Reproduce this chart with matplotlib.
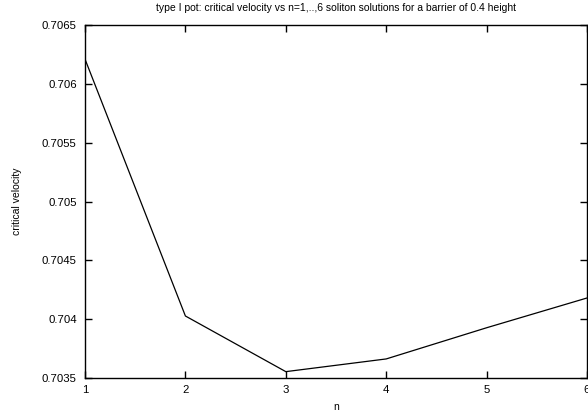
import matplotlib
matplotlib.use("Agg")
import matplotlib.pyplot as plt

n = [1, 2, 3, 4, 5, 6]
vcrit = [0.70621, 0.704027, 0.703554, 0.703662, 0.703927, 0.70418]
yticks = [0.7035, 0.704, 0.7045, 0.705, 0.7055, 0.706, 0.7065]
yticklabels = ["0.7035", "0.704", "0.7045", "0.705", "0.7055", "0.706", "0.7065"]

plt.rcParams['font.family'] = ['Liberation Sans', 'DejaVu Sans']

fig = plt.figure(figsize=(5.88, 4.19), dpi=100)
ax = fig.add_axes([85/588, 1-378/419, (587-85)/588, (378-25)/419])
ax.plot(n, vcrit, color='black', lw=0.9)
ax.set_xlim(1, 6)
ax.set_ylim(0.7035, 0.7065)
ax.set_xticks(n)
ax.set_xticklabels([str(v) for v in n])
ax.set_yticks(yticks)
ax.set_yticklabels(yticklabels)
ax.tick_params(direction='in', length=5, width=1, top=True, right=True,
               labelsize=8.2)
ax.tick_params(axis='y', pad=6)
ax.tick_params(axis='x', pad=5)
for s in ax.spines.values():
    s.set_linewidth(1)
ax.set_xlabel('n', fontsize=7.5, labelpad=5)
ax.set_ylabel('critical velocity', fontsize=7.5)
ax.yaxis.set_label_coords(-0.125, 0.5)
ax.set_title('type I pot: critical velocity vs n=1,..,6 soliton solutions for a barrier of 0.4 height',
             fontsize=7.5, pad=10)
fig.savefig('out.png', dpi=100)
